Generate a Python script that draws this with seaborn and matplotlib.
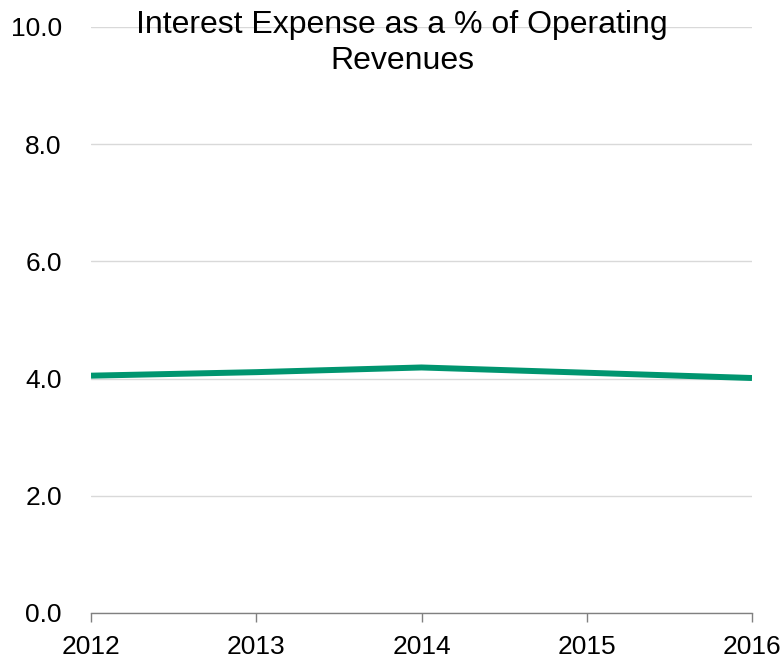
import matplotlib
matplotlib.use("Agg")
import matplotlib.pyplot as plt
import seaborn as sns
import pandas as pd

years = [2012, 2013, 2014, 2015, 2016]
interest_pct = [4.05, 4.11, 4.19, 4.10, 4.01]
y_ticks = [0, 2, 4, 6, 8, 10]
title_lines = ["Interest Expense as a % of Operating", "Revenues"]

sns.set_theme(style="white")
plt.rcParams["font.family"] = ["Liberation Sans", "DejaVu Sans"]

df = pd.DataFrame({"Year": years, "Pct": interest_pct})

W, H = 782, 657
fig = plt.figure(figsize=(W / 100, H / 100), dpi=100)
ax = fig.add_axes([91 / W, 1 - 613 / H, (752 - 91) / W, (613 - 27) / H])

sns.lineplot(data=df, x="Year", y="Pct", ax=ax, color="#00956F", linewidth=4.3,
             solid_capstyle="butt", zorder=3)

ax.set_xlim(years[0], years[-1])
ax.set_ylim(0, 10)
ax.set_yticks(y_ticks)
ax.set_yticklabels([f"{v:.1f}" for v in y_ticks], fontsize=19)
ax.set_xticks(years)
ax.set_xticklabels([str(y) for y in years], fontsize=19)
ax.set_xlabel("")
ax.set_ylabel("")

ax.grid(axis="y", color="#d9d9d9", linewidth=1)
ax.grid(axis="x", visible=False)
for side in ["left", "right", "top"]:
    ax.spines[side].set_visible(False)
ax.spines["bottom"].set_color("#808080")
ax.spines["bottom"].set_linewidth(1)
ax.tick_params(axis="x", which="major", bottom=True, length=6.5, width=1,
               color="#808080", pad=9, labelcolor="black")
ax.tick_params(axis="y", left=False, length=0, pad=21, labelcolor="black")

for line, base in zip(title_lines, [33, 69]):
    fig.text(402 / W, 1 - base / H, line, ha="center", va="baseline",
             fontsize=23, color="black")

fig.savefig("out.png", dpi=100)
